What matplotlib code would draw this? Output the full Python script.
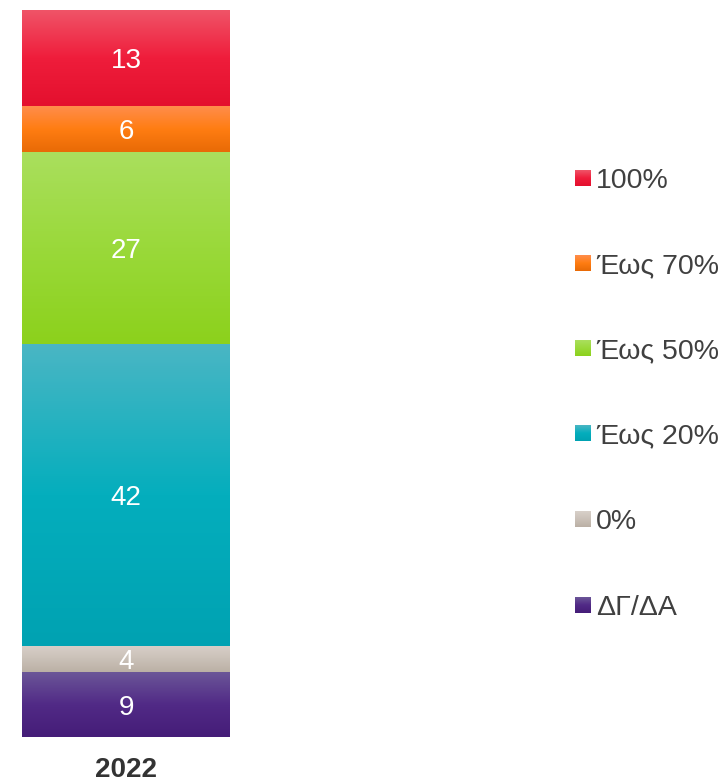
import numpy as np
import matplotlib.pyplot as plt
from matplotlib.colors import LinearSegmentedColormap

plt.rcParams['font.family'] = ['Liberation Sans', 'DejaVu Sans']

# data, bottom to top (percent shares, labels shown rounded)
categories = ["ΔΓ/ΔΑ", "0%", "Έως 20%", "Έως 50%", "Έως 70%", "100%"]
values = [8.9, 3.6, 41.5, 26.5, 6.3, 13.2]
labels = ["9", "4", "42", "27", "6", "13"]
year = "2022"

# gradient colours per segment: (top, middle, bottom)
grads = [
    ("#6B5698", "#512A86", "#451D78"),
    ("#D8D0C9", "#CAC1B8", "#BBB0A5"),
    ("#4AB6C4", "#04AEBD", "#00A2B2"),
    ("#AADF5E", "#9AD93A", "#8CD11C"),
    ("#FF8D4C", "#FF7D12", "#E86A06"),
    ("#F05468", "#EF1D3B", "#E4102E"),
]

fig = plt.figure(figsize=(7.26, 7.82), dpi=100)
W, H = 726, 782
ax = fig.add_axes([22 / W, (H - 737) / H, 208 / W, 727 / H])

bottom = 0
for cat, v, lab, g in zip(categories, values, labels, grads):
    bars = ax.bar(0, v, bottom=bottom, width=1.0, color=g[1], linewidth=0)
    r = bars[0]
    cmap = LinearSegmentedColormap.from_list(cat, [g[2], g[1], g[0]])
    grad = np.linspace(0, 1, 256).reshape(-1, 1)
    x0, y0 = r.get_x(), r.get_y()
    ax.imshow(grad, extent=(x0, x0 + r.get_width(), y0, y0 + r.get_height()),
              origin='lower', aspect='auto', cmap=cmap, zorder=2)
    ax.text(0, bottom + v / 2, lab, ha='center', va='center_baseline',
            color='white', fontsize=20, zorder=3)
    bottom += v

ax.set_xlim(-0.5, 0.5)
ax.set_ylim(0, sum(values))
ax.axis('off')
fig.text(126 / W, 1 - 767 / H, year, ha='center', va='center_baseline',
         fontsize=20, fontweight='bold', color='#333333')

# legend drawn in pixel coordinates
lax = fig.add_axes([0, 0, 1, 1])
lax.set_xlim(0, W)
lax.set_ylim(H, 0)
lax.axis('off')
rows = [178, 263, 348, 433, 519, 605]
for cat, g, yc in zip(categories[::-1], grads[::-1], rows):
    cmap = LinearSegmentedColormap.from_list(cat + "_l", [g[0], g[1], g[2]])
    grad = np.linspace(0, 1, 64).reshape(-1, 1)
    lax.imshow(grad, extent=(575, 591, yc + 8, yc - 8), origin='upper',
               aspect='auto', cmap=cmap)
    lax.text(596, yc, cat, ha='left', va='center_baseline', fontsize=20.5,
             color='#404040')
lax.set_xlim(0, W)
lax.set_ylim(H, 0)

fig.savefig("out.png", dpi=100)
